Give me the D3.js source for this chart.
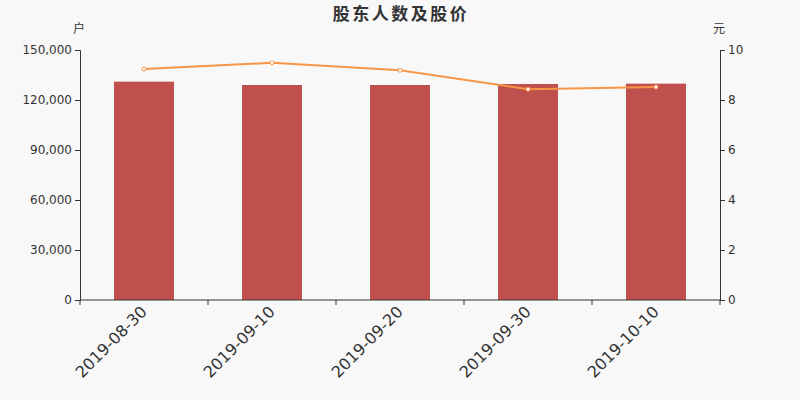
<!DOCTYPE html>
<html lang="zh">
  <head>
    <meta charset="UTF-8" />
    <title>股东人数及股价</title>
    <style>
      body { margin: 0; background: #f8f8f8; }
      text { font-family: "DejaVu Sans", "Noto Sans CJK SC", sans-serif; }
    </style>
  </head>
  <body>
    <svg id="svg" width="800" height="400" style="background-color: #f8f8f8"></svg>

    <script src="https://d3js.org/d3.v7.min.js"></script>
    <script>
      const dates = ["2019-08-30", "2019-09-10", "2019-09-20", "2019-09-30", "2019-10-10"];
      const holders = [131000, 129000, 129000, 129600, 129800];
      const prices = [9.24, 9.49, 9.19, 8.43, 8.52];
      const leftTicks = [0, 30000, 60000, 90000, 120000, 150000];
      const rightTicks = [0, 2, 4, 6, 8, 10];

      const margin = { top: 50, right: 80, bottom: 100, left: 80 };
      const width = 800, height = 400;
      const svg = d3.select("#svg");

      const x = d3.scaleBand()
        .domain(dates)
        .range([margin.left, width - margin.right]);

      const yLeft = d3.scaleLinear()
        .domain([0, 150000])
        .range([height - margin.bottom, margin.top]);

      const yRight = d3.scaleLinear()
        .domain([0, 10])
        .range([height - margin.bottom, margin.top]);

      // bars
      const barW = 60;
      svg.append("g")
        .selectAll("rect")
        .data(dates)
        .join("rect")
        .attr("x", (d) => x(d) + x.bandwidth() / 2 - barW / 2)
        .attr("y", (d, i) => yLeft(holders[i]))
        .attr("width", barW)
        .attr("height", (d, i) => yLeft(0) - yLeft(holders[i]))
        .attr("fill", "#c0504d");

      // axes
      const axisColor = "#333";
      const fmt = d3.format(",");

      const gl = svg.append("g")
        .attr("transform", `translate(${margin.left},0)`)
        .call(d3.axisLeft(yLeft).tickValues(leftTicks).tickFormat(fmt).tickSize(5).tickPadding(3));

      const gr = svg.append("g")
        .attr("transform", `translate(${width - margin.right},0)`)
        .call(d3.axisRight(yRight).tickValues(rightTicks).tickSize(5).tickPadding(3));

      // x axis: ticks at band boundaries
      const gx = svg.append("g")
        .attr("transform", `translate(0,${height - margin.bottom})`);
      gx.append("line")
        .attr("x1", margin.left).attr("x2", width - margin.right)
        .attr("stroke", axisColor);
      gx.selectAll(".tick")
        .data(dates.concat(["end"]))
        .join("line")
        .attr("x1", (d, i) => margin.left + i * x.step())
        .attr("x2", (d, i) => margin.left + i * x.step())
        .attr("y1", 0).attr("y2", 5)
        .attr("stroke", axisColor);
      gx.selectAll("text")
        .data(dates)
        .join("text")
        .attr("transform", (d) => `translate(${x(d) + x.bandwidth() / 2 - 4},${5}) rotate(-45)`)
        .attr("text-anchor", "end")
        .attr("dy", "0.7em")
        .attr("font-size", 16)
        .attr("fill", axisColor)
        .text((d) => d);

      [gl, gr].forEach((g) => {
        g.select(".domain").attr("stroke", axisColor);
        g.selectAll(".tick line").attr("stroke", axisColor);
        g.selectAll(".tick text")
          .attr("fill", axisColor)
          .attr("font-size", 12)
          .style("font-family", "DejaVu Sans, sans-serif");
      });

      // line
      const line = d3.line()
        .x((d, i) => x(dates[i]) + x.bandwidth() / 2)
        .y((d) => yRight(d));

      svg.append("path")
        .datum(prices)
        .attr("d", line)
        .attr("fill", "none")
        .attr("stroke", "#f79646")
        .attr("stroke-width", 2);

      svg.append("g")
        .selectAll("circle")
        .data(prices)
        .join("circle")
        .attr("cx", (d, i) => x(dates[i]) + x.bandwidth() / 2)
        .attr("cy", (d) => yRight(d))
        .attr("r", 2)
        .attr("fill", "#fff")
        .attr("stroke", "#f79646")
        .attr("stroke-width", 1);

      // title and unit labels
      svg.append("text")
        .attr("x", width / 2 + 1).attr("y", 20)
        .attr("text-anchor", "middle")
        .attr("font-size", 17)
        .attr("font-weight", "bold")
        .attr("fill", axisColor)
        .attr("letter-spacing", 2.5)
        .text("股东人数及股价");

      svg.append("text")
        .attr("x", 79).attr("y", 33)
        .attr("text-anchor", "middle")
        .attr("font-size", 12)
        .attr("fill", axisColor)
        .text("户");

      svg.append("text")
        .attr("x", 719).attr("y", 33)
        .attr("text-anchor", "middle")
        .attr("font-size", 12)
        .attr("fill", axisColor)
        .text("元");
    </script>
  </body>
</html>
